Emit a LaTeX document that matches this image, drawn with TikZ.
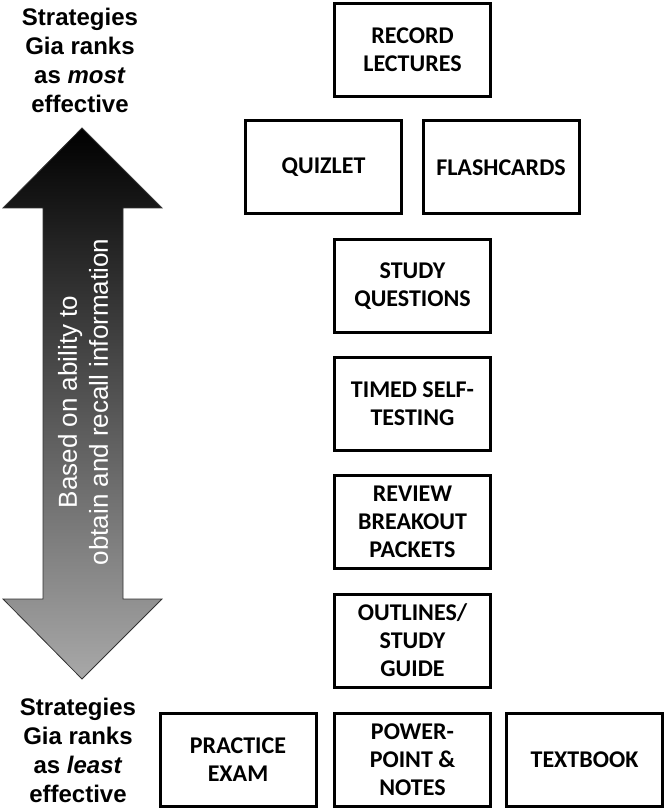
\documentclass[tikz,border=0pt]{standalone}
\usepackage{fontspec}
\setmainfont{Liberation Sans}
\newfontfamily\boxfont{Carlito}
\begin{document}
\begin{tikzpicture}[x=1pt,y=-1pt,
  stratbox/.style={draw=black, line width=3pt, fill=white, minimum width=156pt, minimum height=93pt,
    inner sep=0pt, align=center, font=\boxfont\bfseries\fontsize{24}{28}\selectfont},
  sidelabel/.style={align=center, inner sep=0pt, font=\bfseries\fontsize{24}{29}\selectfont},
  arrowtext/.style={align=center, inner sep=0pt, text=white, rotate=90, font=\fontsize{26}{31}\selectfont}]
\useasboundingbox (0,0) rectangle (666,810);
% double arrow
\path[draw=black!80, line width=0.8pt, top color=black, middle color=black!92, bottom color=black!34]
  (82,128) -- (162,208) -- (123,208) -- (123,599) -- (162,599) -- (82,679) -- (3,599) -- (43,599)
  -- (43,208) -- (3,208) -- cycle;
\node[arrowtext] (axis) at (83,402) {Based on ability to\\obtain and recall information};
% side labels
\node[sidelabel] (most) at (80,60) {Strategies\\Gia ranks\\as \textit{most}\\effective};
\node[sidelabel] (least) at (78,750) {Strategies\\Gia ranks\\as \textit{least}\\effective};
% boxes
\node[stratbox] (record) at (412.5,50) {RECORD\\LECTURES};
\node[stratbox] (quizlet) at (323.5,167.5) {QUIZLET};
\node[stratbox] (flash) at (501,167.5) {FLASHCARDS};
\node[stratbox] (study) at (412.5,286) {STUDY\\QUESTIONS};
\node[stratbox] (timed) at (412.5,404) {TIMED SELF-\\TESTING};
\node[stratbox] (review) at (412.5,522) {REVIEW\\BREAKOUT\\PACKETS};
\node[stratbox] (outline) at (412.5,640.5) {OUTLINES/\\STUDY\\GUIDE};
\node[stratbox] (practice) at (238,760) {PRACTICE\\EXAM};
\node[stratbox] (ppt) at (412.5,760) {POWER-\\POINT \&\\NOTES};
\node[stratbox] (textbook) at (584.5,760) {TEXTBOOK};
\end{tikzpicture}
\end{document}
